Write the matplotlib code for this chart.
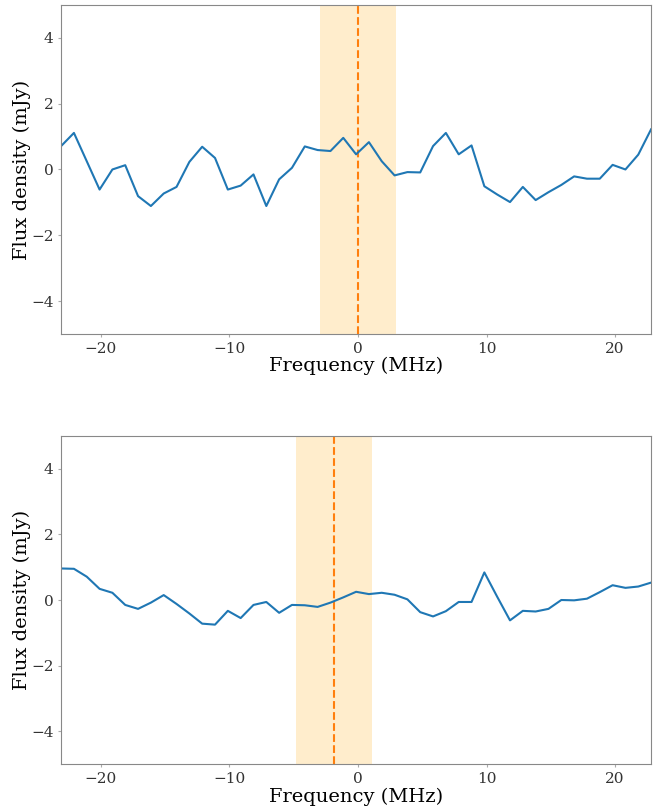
import numpy as np
import matplotlib
matplotlib.use("Agg")
import matplotlib.pyplot as plt

# channel frequencies (MHz), 47 channels
freq = np.linspace(-23.1, 22.8, 47)

flux_top = [0.71, 1.11, 0.25, -0.61, 0.0, 0.13, -0.81, -1.11, -0.73, -0.53,
            0.23, 0.69, 0.35, -0.61, -0.49, -0.15, -1.11, -0.30, 0.05, 0.70,
            0.59, 0.56, 0.96, 0.46, 0.83, 0.25, -0.18, -0.08, -0.09, 0.71,
            1.11, 0.46, 0.73, -0.51, -0.76, -0.99, -0.53, -0.93, -0.69, -0.47,
            -0.21, -0.28, -0.28, 0.14, 0.0, 0.45, 1.22]

flux_bottom = [0.96, 0.95, 0.71, 0.34, 0.22, -0.15, -0.27, -0.08, 0.15, -0.12,
               -0.41, -0.72, -0.75, -0.33, -0.55, -0.15, -0.06, -0.39, -0.15, -0.16,
               -0.21, -0.08, 0.08, 0.25, 0.18, 0.22, 0.16, 0.02, -0.37, -0.50,
               -0.34, -0.06, -0.06, 0.84, 0.10, -0.62, -0.33, -0.35, -0.27, 0.0,
               -0.01, 0.04, 0.24, 0.45, 0.37, 0.41, 0.53]

line_centres = [0.0, -1.9]
half_width = 2.95

plt.rcParams["font.family"] = "DejaVu Serif"
plt.rcParams["mathtext.fontset"] = "dejavuserif"

fig = plt.figure(figsize=(6.57, 8.07), dpi=100)
ax_top = fig.add_axes([0.093, 0.586, 0.898, 0.408])
ax_bot = fig.add_axes([0.093, 0.053, 0.898, 0.407])

for ax, flux, c in zip([ax_top, ax_bot], [flux_top, flux_bottom], line_centres):
    ax.axvspan(c - half_width, c + half_width, color="orange", alpha=0.2, lw=0)
    ax.axvline(c, color="#ff7f0e", ls="--", lw=1.5)
    ax.plot(freq, flux, color="#1f77b4", lw=1.5)
    ax.set_xlim(freq[0], freq[-1])
    ax.set_ylim(-5, 5)
    ax.set_xticks([-20, -10, 0, 10, 20])
    ax.set_yticks([-4, -2, 0, 2, 4])
    ax.set_xlabel("Frequency (MHz)", fontsize=14, labelpad=1)
    ax.set_ylabel("Flux density (mJy)", fontsize=14, labelpad=0)
    ax.tick_params(labelsize=11, length=2, color="#aaaaaa", labelcolor="#333333")
    for sp in ax.spines.values():
        sp.set_color("#888888")

fig.savefig("out.png", dpi=100)
